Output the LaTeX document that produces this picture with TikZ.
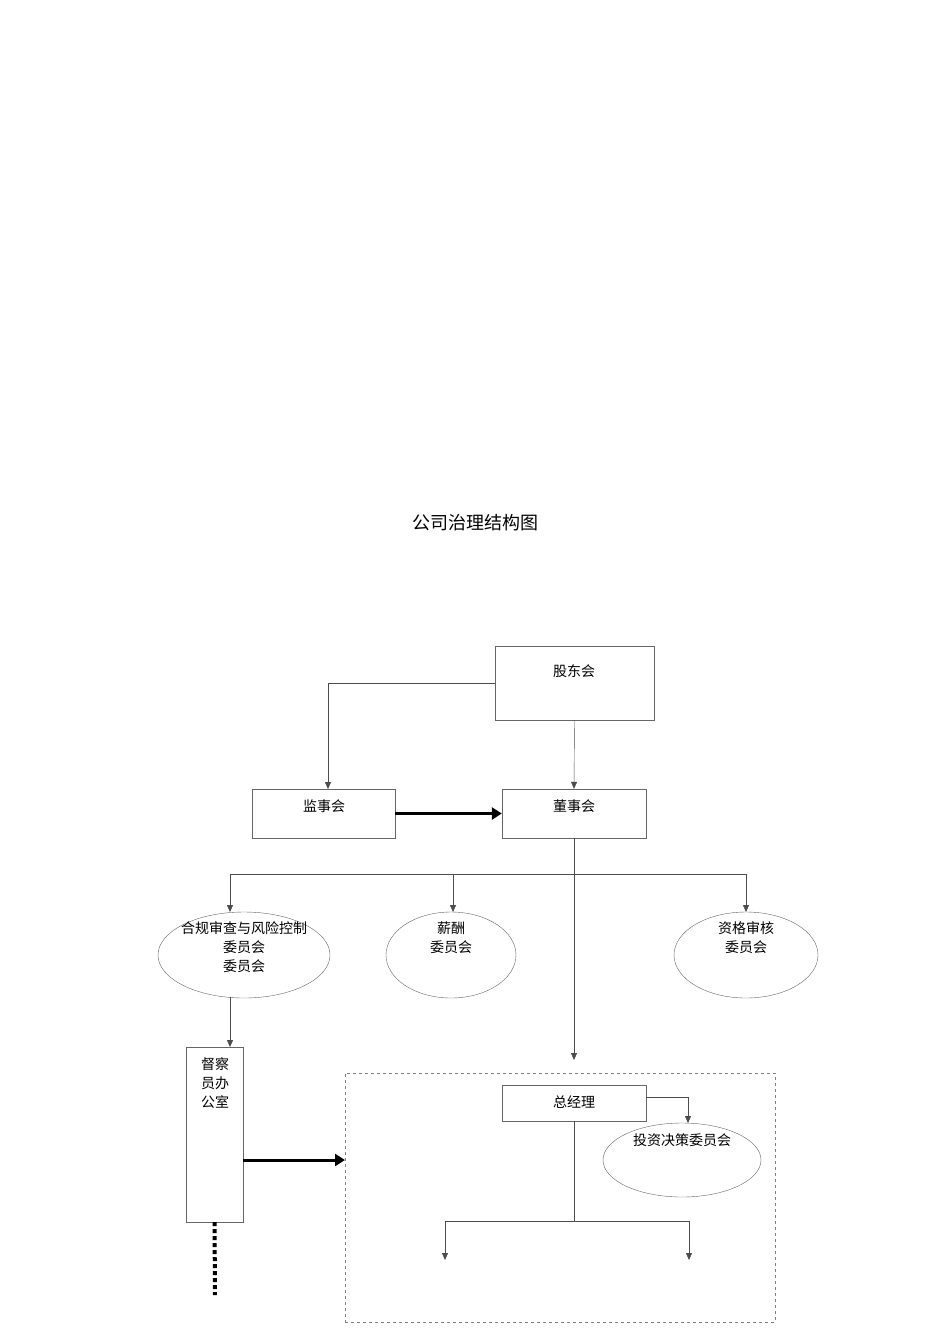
\documentclass[tikz,border=0pt]{standalone}
\usepackage{fontspec}
\setmainfont{Liberation Serif}
\newfontfamily\cjk{Noto Sans CJK SC}
\usetikzlibrary{shapes.geometric,arrows.meta}
\begin{document}
\begin{tikzpicture}[x=1pt,y=-1pt,
  bx/.style={draw=black!60,line width=0.4pt,rectangle,inner sep=0pt},
  el/.style={draw=black!60,line width=0.4pt,ellipse,inner sep=0pt},
  txt/.style={font=\cjk\fontsize{14}{19}\selectfont,align=center,inner sep=0pt},
  ln/.style={draw=black!70,line width=0.4pt},
  ar/.style={ln,-{Triangle[length=7pt,width=6pt]}},
  thick arrow/.style={draw=black,line width=3pt,-{Triangle[length=10pt,width=12pt]}}]
\useasboundingbox (0,0) rectangle (950,1344);
\node[font=\cjk\fontsize{18}{22}\selectfont] (title) at (475,523) {公司治理结构图};
\node[bx,minimum width=159pt,minimum height=74pt] (gdh) at (574.5,683) {};
\node[txt] (gdht) at (574,671) {股东会};
\node[bx,minimum width=143pt,minimum height=49pt] (jsh) at (323.5,813.5) {};
\node[txt] (jsht) at (324,806) {监事会};
\node[bx,minimum width=144pt,minimum height=49pt] (dsh) at (574,813.5) {};
\node[txt] (dsht) at (574,806) {董事会};
\draw[ar] (gdh.west) -- (328,683) -- (328,789);
\draw[ar] (gdh.south) -- (dsh.north);
\draw[thick arrow] (jsh.east) -- (dsh.west);
\node[el,minimum width=172pt,minimum height=86pt] (e1) at (244,955) {};
\node[txt] (e1t) at (244,947) {合规审查与风险控制\\委员会\\委员会};
\node[el,minimum width=130pt,minimum height=86pt] (e2) at (451,955) {};
\node[txt] (e2t) at (451,938) {薪酬\\委员会};
\node[el,minimum width=144pt,minimum height=86pt] (e3) at (746,955) {};
\node[txt] (e3t) at (746,938) {资格审核\\委员会};
\coordinate (j1) at (574,874);
\draw[ln] (dsh.south) -- (j1);
\draw[ln] (230,874) -- (746,874);
\draw[ar] (230,874) -- (230,912);
\draw[ar] (453,874) -- (453,912);
\draw[ar] (746,874) -- (746,912);
\coordinate (gmtop) at (574,1060);
\draw[ar] (j1) -- (gmtop);
\node[bx,minimum width=57pt,minimum height=175pt] (dc) at (214.5,1134.5) {};
\node[txt] (dct) at (215,1083) {督察\\员办\\公室};
\draw[ar] (230,997) -- (230,1047);
\node[draw=black!50,dashed,line width=0.4pt,minimum width=430pt,minimum height=249pt,inner sep=0pt] (db) at (560,1197.5) {};
\coordinate (dbin) at (345,1160);
\draw[thick arrow] (243,1160) -- (dbin);
\draw[line width=4pt,dash pattern=on 4pt off 3pt] (dc.south) -- (215,1295);
\node[bx,minimum width=144pt,minimum height=36pt] (zjl) at (574,1103) {};
\node[txt] (zjlt) at (574,1102) {总经理};
\node[el,minimum width=158pt,minimum height=74pt] (e4) at (682,1160) {};
\node[txt] (e4t) at (682,1140) {投资决策委员会};
\draw[ar] (646,1097) -- (688,1097) -- (688,1123);
\coordinate (j2) at (574,1221);
\draw[ln] (zjl.south) -- (j2);
\draw[ln] (445,1221) -- (689,1221);
\draw[ar] (445,1221) -- (445,1260);
\draw[ar] (689,1221) -- (689,1260);
\end{tikzpicture}
\end{document}
